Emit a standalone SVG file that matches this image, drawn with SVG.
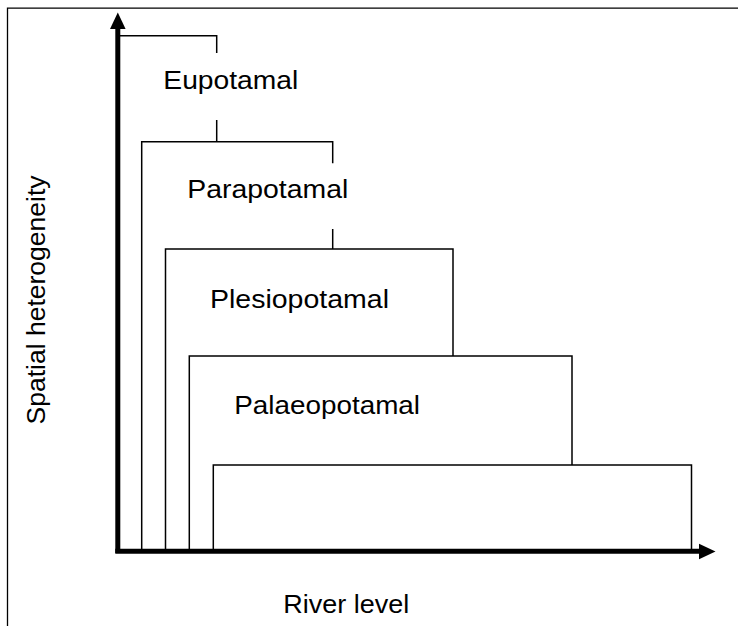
<svg xmlns="http://www.w3.org/2000/svg" width="738" height="626" viewBox="0 0 738 626">
<style>
.frame{fill:none;stroke:#000;stroke-width:1.3}
.axis{fill:none;stroke:#000;stroke-width:5}
.head{fill:#000}
.box{fill:none;stroke:#000;stroke-width:1.5}
.lbl{font-family:"Liberation Sans",Arial,sans-serif;font-size:26.5px;fill:#000}
</style>
<rect width="738" height="626" fill="#fff"/>
<path class="frame" d="M7.5,626 V8.2 H738"/>
<g id="connectors">
<path class="box" d="M120,35.7 H216.7 V53 M216.7,120 V141.7"/>
<path class="box" d="M332.7,229 V249"/>
</g>
<g id="eupotamal">
<text class="lbl" x="163.3" y="89.3" textLength="135" lengthAdjust="spacingAndGlyphs">Eupotamal</text>
</g>
<g id="parapotamal">
<path class="box" d="M141.7,550 V141.7 H332.7 V163.3"/>
<text class="lbl" x="187.3" y="198.3" textLength="161" lengthAdjust="spacingAndGlyphs">Parapotamal</text>
</g>
<g id="plesiopotamal">
<path class="box" d="M165.5,550 V249 H453 V356"/>
<text class="lbl" x="210" y="308.3" textLength="179" lengthAdjust="spacingAndGlyphs">Plesiopotamal</text>
</g>
<g id="palaeopotamal">
<path class="box" d="M189.3,550 V356 H572 V465"/>
<text class="lbl" x="234.3" y="414" textLength="185.7" lengthAdjust="spacingAndGlyphs">Palaeopotamal</text>
</g>
<g id="base">
<path class="box" d="M213.3,550 V465 H691.5 V550"/>
</g>
<g id="axes">
<path class="axis" d="M117.8,553 V27"/>
<polygon class="head" points="117.8,12.5 110,29 125.6,29"/>
<path class="axis" d="M115.3,551.3 H701"/>
<polygon class="head" points="715.5,551.5 699,543.8 699,559.2"/>
</g>
<text class="lbl" x="283.3" y="613.3" textLength="126" lengthAdjust="spacingAndGlyphs">River level</text>
<text class="lbl" transform="translate(45,300) rotate(-90)" text-anchor="middle">Spatial heterogeneity</text>
</svg>
